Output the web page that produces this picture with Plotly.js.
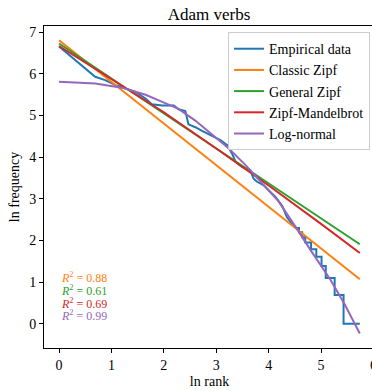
<!DOCTYPE html>
<html>
<head>
<meta charset="utf-8">
<script src="https://cdn.plot.ly/plotly-3.0.1.min.js"></script>
<style>
html,body{margin:0;padding:0;overflow:hidden;background:#fff;}
#chart{width:380px;height:391px;}
</style>
</head>
<body>
<div id="chart"></div>
<script>
// Empirical data (ln rank, ln frequency)
const empX = [0, 0.69, 0.88, 1.10, 1.27, 1.46, 1.65, 1.77, 1.97, 2.19, 2.28, 2.41, 2.47, 2.60, 2.73, 2.89, 3.08, 3.21, 3.30, 3.37, 3.49, 3.65, 3.71, 3.78, 3.90, 4.00, 4.13, 4.26, 4.35, 4.45, 4.52, 4.58, 4.58, 4.64, 4.64, 4.70, 4.70, 4.81, 4.81, 4.91, 4.91, 5.01, 5.01, 5.09, 5.09, 5.26, 5.26, 5.43, 5.43, 5.74];
const empY = [6.66, 5.93, 5.85, 5.72, 5.65, 5.57, 5.41, 5.27, 5.24, 5.24, 5.15, 5.11, 4.79, 4.72, 4.63, 4.53, 4.41, 4.29, 4.09, 3.89, 3.77, 3.69, 3.49, 3.41, 3.33, 3.21, 3.05, 2.83, 2.56, 2.40, 2.30, 2.30, 2.20, 2.20, 2.08, 2.08, 1.95, 1.95, 1.79, 1.79, 1.61, 1.61, 1.39, 1.39, 1.10, 1.10, 0.69, 0.69, 0, 0];

// Fitted models
const classicX = [0, 5.74];
const classicY = [6.81, 1.07];
const generalX = [0, 5.74];
const generalY = [6.73, 1.91];
const mandelX = [0, 1, 2, 3, 4, 5, 5.74];
const mandelY = [6.67, 5.88, 5.08, 4.21, 3.32, 2.40, 1.70];
const lognX = [0, 0.69, 1.20, 1.65, 1.97, 2.28, 2.60, 2.98, 3.24, 3.56, 3.87, 4.19, 4.54, 4.80, 5.18, 5.45, 5.74];
const lognY = [5.81, 5.77, 5.67, 5.50, 5.33, 5.16, 4.88, 4.49, 4.21, 3.81, 3.37, 2.94, 2.28, 1.77, 1.06, 0.47, -0.23];

const seriesNames = ["Empirical data", "Classic Zipf", "General Zipf", "Zipf-Mandelbrot", "Log-normal"];
const seriesColors = ["#1f77b4", "#ff7f0e", "#2ca02c", "#d62728", "#9467bd"];
const r2Labels = ["0.88", "0.61", "0.69", "0.99"];
const r2Y = [1.11, 0.81, 0.50, 0.20];

const xs = [empX, classicX, generalX, mandelX, lognX];
const ys = [empY, classicY, generalY, mandelY, lognY];

const font = "Liberation Serif";

const traces = seriesNames.map((n, i) => ({
  x: xs[i], y: ys[i], name: n, mode: "lines", type: "scatter",
  line: {color: seriesColors[i], width: 2}
}));

const annotations = r2Labels.map((v, i) => ({
  x: 0, y: r2Y[i], xref: "x", yref: "y", xanchor: "left", yanchor: "middle",
  showarrow: false, text: "<i>R</i><sup>2</sup> = " + v,
  font: {family: font, size: 12, color: seriesColors[i + 1]}
}));

const axisCommon = {
  showgrid: false, zeroline: false, showline: true, mirror: true,
  linecolor: "#000", linewidth: 1, ticks: "outside", ticklen: 4,
  tickcolor: "#000", tickwidth: 1, tickfont: {family: font, size: 14, color: "#000"}
};

const layout = {
  width: 380, height: 391,
  margin: {l: 44, r: 5, t: 26, b: 43},
  paper_bgcolor: "#fff", plot_bgcolor: "#fff",
  font: {family: font, size: 14, color: "#000"},
  title: {text: "Adam verbs", font: {family: font, size: 17, color: "#000"}, x: 0.55, xanchor: "center", y: 0.965, yanchor: "middle"},
  xaxis: Object.assign({}, axisCommon, {range: [-0.287, 6.03], tickvals: [0,1,2,3,4,5,6],
    title: {text: "ln rank", font: {family: font, size: 14, color: "#000"}, standoff: 4}}),
  yaxis: Object.assign({}, axisCommon, {range: [-0.58, 7.15], tickvals: [0,1,2,3,4,5,6,7],
    title: {text: "ln frequency", font: {family: font, size: 14, color: "#000"}, standoff: 6}}),
  legend: {x: 0.556, y: 0.981, xanchor: "left", yanchor: "top", bgcolor: "rgba(255,255,255,0.8)",
    bordercolor: "#cccccc", borderwidth: 1, font: {family: font, size: 14, color: "#000"}, tracegroupgap: 0},
  showlegend: true,
  annotations: annotations
};

Plotly.newPlot("chart", traces, layout, {displayModeBar: false, staticPlot: true});
</script>
</body>
</html>
